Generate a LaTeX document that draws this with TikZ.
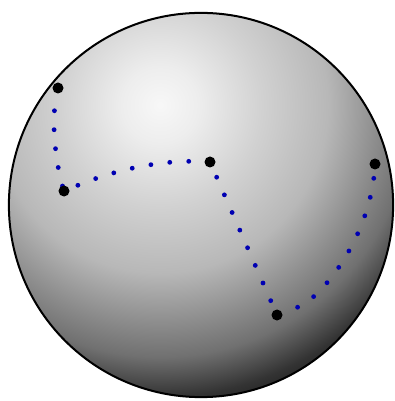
\documentclass[tikz,border=0pt]{standalone}
\usetikzlibrary{calc}
\pgfdeclareradialshading{sphereshade}{\pgfpoint{0bp}{0bp}}{%
  color(0bp)=(black!3);
  color(3.2bp)=(black!7);
  color(8.5bp)=(black!18);
  color(14bp)=(black!28);
  color(18.2bp)=(black!45);
  color(21bp)=(black!56);
  color(24.3bp)=(black!80);
  color(26bp)=(black!87);
  color(50bp)=(black!92)}
\tikzset{
  pt/.style={circle, fill=black, inner sep=0pt, minimum size=0.11cm},
  bluedots/.style={draw=blue!70!black, line width=0.048cm, line cap=round},
  rim/.style={draw=black, line width=0.02cm}
}
\begin{document}
\begin{tikzpicture}[x=0.01cm, y=-0.01cm]
  \useasboundingbox (0,0) rectangle (394,401);
  \coordinate (o) at (201,205);
  \coordinate (h) at (160,105);
  \begin{scope}
    \clip (o) circle (1.92cm);
    \shade[shading=sphereshade] ($(h)+(-300,-300)$) rectangle ($(h)+(300,300)$);
  \end{scope}
  \draw[rim] (o) circle (1.92cm);

  \coordinate (ca) at (58,88);
  \coordinate (cb) at (64,191);
  \coordinate (cc) at (210,162);
  \coordinate (cd) at (277,315);
  \coordinate (ce) at (375,164);

  \draw[bluedots, dash pattern=on 0pt off 0.19cm, shorten <=0.23cm]
    (ca) .. controls (53,120) and (54,160) .. (cb);
  \draw[bluedots, dash pattern=on 0pt off 0.19cm, shorten <=0.15cm]
    (cb) .. controls (110,172) and (160,158) .. (cc);
  \draw[bluedots, dash pattern=on 0pt off 0.1924cm, shorten <=0.166cm]
    (cc) -- (cd);
  \draw[bluedots, dash pattern=on 0pt off 0.193cm, shorten <=0.22cm]
    (cd) .. controls (322,298) and (372,235) .. (ce);

  \node[pt] (a) at (ca) {};
  \node[pt] (b) at (cb) {};
  \node[pt] (c) at (cc) {};
  \node[pt] (d) at (cd) {};
  \node[pt] (e) at (ce) {};
\end{tikzpicture}
\end{document}
